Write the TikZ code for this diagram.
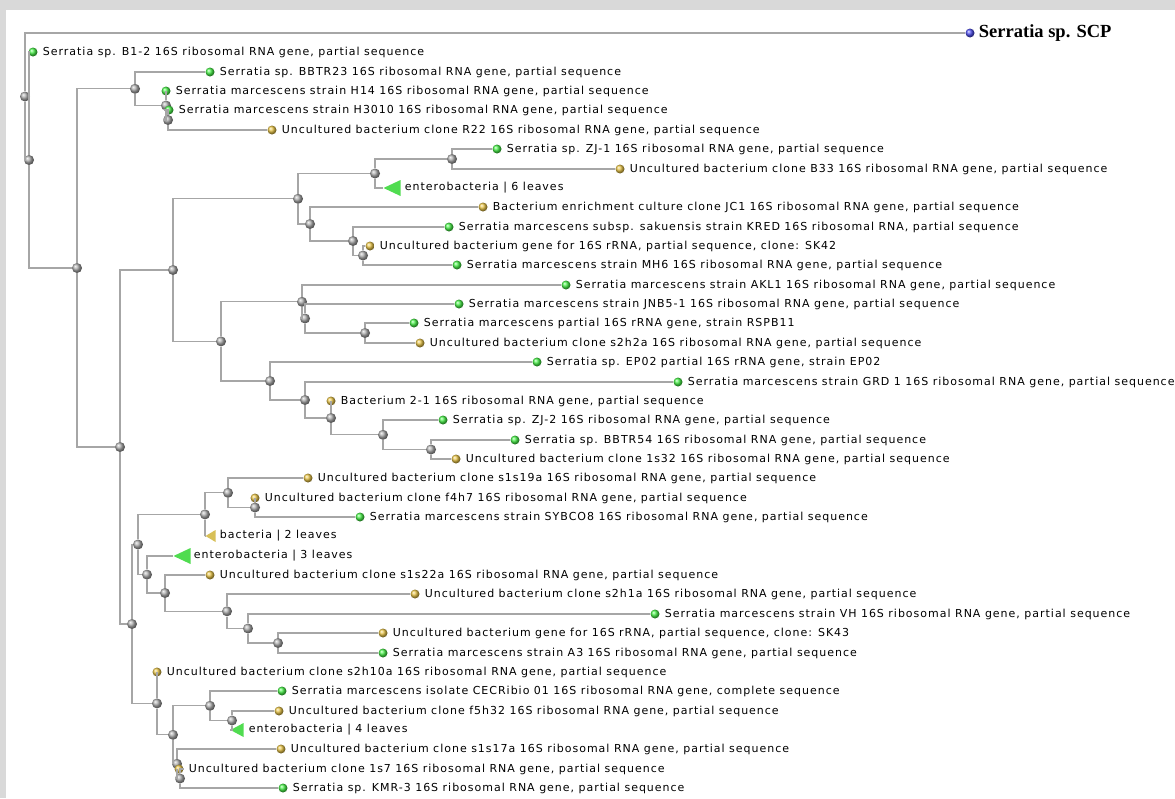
\documentclass[tikz,border=0pt]{standalone}
\usepackage{fontspec}
\usetikzlibrary{positioning, shapes.geometric}
\newfontfamily\treefont{DejaVu Sans}[LetterSpace=9]
\newfontfamily\rootfont{Liberation Serif}
\definecolor{leafgreen}{HTML}{48F048}
\definecolor{leafgold}{HTML}{E8C448}
\definecolor{leafblue}{HTML}{5050F0}
\definecolor{cladegreen}{HTML}{50DC50}
\definecolor{cladegold}{HTML}{D8C058}
\definecolor{branchgray}{HTML}{A6A6A6}

\begin{document}
\begin{tikzpicture}[
    x=1pt, y=-1pt,
    split/.style={circle, inner sep=0pt, minimum size=10pt, ball color=gray!65},
    leaf/.style={circle, inner sep=0pt, minimum size=9pt, ball color=#1},
    tag/.style={inner sep=0pt, font=\treefont\fontsize{11}{13}\selectfont, text=black},
    clade/.style={isosceles triangle, shape border rotate=180, anchor=apex, inner sep=0pt, isosceles triangle stretches, fill=#1},
    branch/.style={draw=branchgray, line width=1.3pt}
]
    % FRAME
    \useasboundingbox (0,0) rectangle (1175,798);
    \fill[gray!30] (0,0) rectangle (1175,798);
    \fill[white] (6,10) rectangle (1175,798);

    % INNER NODES
    \node[split] (n_a) at (25,96.5) {};
    \node[split] (n_b) at (29,160) {};
    \node[split] (n_c) at (77,268) {};
    \node[split] (n_d) at (135,88.8) {};
    \node[split] (n_e) at (166,105.5) {};
    \node[split] (n_f) at (168,120) {};
    \node[split] (n_g) at (120,447) {};
    \node[split] (n_h) at (173,270) {};
    \node[split] (n_y) at (298,198.8) {};
    \node[split] (n_aa) at (375,173.5) {};
    \node[split] (n_ac) at (452,159) {};
    \node[split] (n_ab) at (310,224) {};
    \node[split] (n_ad) at (353,241) {};
    \node[split] (n_ae) at (363,255.5) {};
    \node[split] (n_z) at (221,341.4) {};
    \node[split] (n_af) at (302,301.8) {};
    \node[split] (n_ah) at (305,318.5) {};
    \node[split] (n_ai) at (365,333) {};
    \node[split] (n_ag) at (270,381) {};
    \node[split] (n_aj) at (305,400) {};
    \node[split] (n_ak) at (331,418) {};
    \node[split] (n_al) at (383,434.8) {};
    \node[split] (n_am) at (431,449.5) {};
    \node[split] (n_i) at (132,624) {};
    \node[split] (n_j) at (138,544.5) {};
    \node[split] (n_l) at (205,514.4) {};
    \node[split] (n_n) at (228,492.8) {};
    \node[split] (n_o) at (255,507.5) {};
    \node[split] (n_m) at (147,574.6) {};
    \node[split] (n_p) at (165,593) {};
    \node[split] (n_q) at (227,611.3) {};
    \node[split] (n_r) at (248,628.5) {};
    \node[split] (n_s) at (278,643) {};
    \node[split] (n_k) at (157,703.4) {};
    \node[split] (n_t) at (173,734.8) {};
    \node[split] (n_u) at (210,705.8) {};
    \node[split] (n_w) at (232,720.5) {};
    \node[split] (n_v) at (177,763.8) {};
    \node[split] (n_x) at (180,778.5) {};

    % LEAVES
    \node[leaf=leafblue] (scp) at (970,33) {};
    \node[inner sep=0pt, font=\rootfont\bfseries\fontsize{18.5}{20}\selectfont, right=4pt of scp] (scp_t) {Serratia sp. SCP};

    \node[leaf=leafgreen] (b1_2) at (33,52) {};
    \node[tag, right=5pt of b1_2] (b1_2_t) {Serratia sp. B1-2 16S ribosomal RNA gene, partial sequence};
    \node[leaf=leafgreen] (bbtr23) at (210,72) {};
    \node[tag, right=5pt of bbtr23] (bbtr23_t) {Serratia sp. BBTR23 16S ribosomal RNA gene, partial sequence};
    \node[leaf=leafgreen] (h14) at (166,91) {};
    \node[tag, right=5pt of h14] (h14_t) {Serratia marcescens strain H14 16S ribosomal RNA gene, partial sequence};
    \node[leaf=leafgreen] (h3010) at (169,110) {};
    \node[tag, right=5pt of h3010] (h3010_t) {Serratia marcescens strain H3010 16S ribosomal RNA gene, partial sequence};
    \node[leaf=leafgold] (r22) at (272,130) {};
    \node[tag, right=5pt of r22] (r22_t) {Uncultured bacterium clone R22 16S ribosomal RNA gene, partial sequence};
    \node[leaf=leafgreen] (zj1) at (497,149) {};
    \node[tag, right=5pt of zj1] (zj1_t) {Serratia sp. ZJ-1 16S ribosomal RNA gene, partial sequence};
    \node[leaf=leafgold] (b33) at (620,169) {};
    \node[tag, right=5pt of b33] (b33_t) {Uncultured bacterium clone B33 16S ribosomal RNA gene, partial sequence};
    \node[clade=cladegreen, minimum width=16pt, minimum height=17pt] (ent6) at (383,188) {};
    \node[tag, right=4pt of ent6] (ent6_t) {enterobacteria | 6 leaves};
    \node[leaf=leafgold] (jc1) at (483,207) {};
    \node[tag, right=5pt of jc1] (jc1_t) {Bacterium enrichment culture clone JC1 16S ribosomal RNA gene, partial sequence};
    \node[leaf=leafgreen] (kred) at (449,227) {};
    \node[tag, right=5pt of kred] (kred_t) {Serratia marcescens subsp. sakuensis strain KRED 16S ribosomal RNA, partial sequence};
    \node[leaf=leafgold] (sk42) at (370,246) {};
    \node[tag, right=5pt of sk42] (sk42_t) {Uncultured bacterium gene for 16S rRNA, partial sequence, clone: SK42};
    \node[leaf=leafgreen] (mh6) at (457,265) {};
    \node[tag, right=5pt of mh6] (mh6_t) {Serratia marcescens strain MH6 16S ribosomal RNA gene, partial sequence};
    \node[leaf=leafgreen] (akl1) at (566,285) {};
    \node[tag, right=5pt of akl1] (akl1_t) {Serratia marcescens strain AKL1 16S ribosomal RNA gene, partial sequence};
    \node[leaf=leafgreen] (jnb51) at (459,304) {};
    \node[tag, right=5pt of jnb51] (jnb51_t) {Serratia marcescens strain JNB5-1 16S ribosomal RNA gene, partial sequence};
    \node[leaf=leafgreen] (rspb11) at (414,323) {};
    \node[tag, right=5pt of rspb11] (rspb11_t) {Serratia marcescens partial 16S rRNA gene, strain RSPB11};
    \node[leaf=leafgold] (s2h2a) at (420,343) {};
    \node[tag, right=5pt of s2h2a] (s2h2a_t) {Uncultured bacterium clone s2h2a 16S ribosomal RNA gene, partial sequence};
    \node[leaf=leafgreen] (ep02) at (537,362) {};
    \node[tag, right=5pt of ep02] (ep02_t) {Serratia sp. EP02 partial 16S rRNA gene, strain EP02};
    \node[leaf=leafgreen] (grd1) at (678,382) {};
    \node[tag, right=5pt of grd1] (grd1_t) {Serratia marcescens strain GRD 1 16S ribosomal RNA gene, partial sequence};
    \node[leaf=leafgold] (bac21) at (331,401) {};
    \node[tag, right=5pt of bac21] (bac21_t) {Bacterium 2-1 16S ribosomal RNA gene, partial sequence};
    \node[leaf=leafgreen] (zj2) at (443,420) {};
    \node[tag, right=5pt of zj2] (zj2_t) {Serratia sp. ZJ-2 16S ribosomal RNA gene, partial sequence};
    \node[leaf=leafgreen] (bbtr54) at (515,440) {};
    \node[tag, right=5pt of bbtr54] (bbtr54_t) {Serratia sp. BBTR54 16S ribosomal RNA gene, partial sequence};
    \node[leaf=leafgold] (c1s32) at (456,459) {};
    \node[tag, right=5pt of c1s32] (c1s32_t) {Uncultured bacterium clone 1s32 16S ribosomal RNA gene, partial sequence};
    \node[leaf=leafgold] (s1s19a) at (308,478) {};
    \node[tag, right=5pt of s1s19a] (s1s19a_t) {Uncultured bacterium clone s1s19a 16S ribosomal RNA gene, partial sequence};
    \node[leaf=leafgold] (f4h7) at (255,498) {};
    \node[tag, right=5pt of f4h7] (f4h7_t) {Uncultured bacterium clone f4h7 16S ribosomal RNA gene, partial sequence};
    \node[leaf=leafgreen] (sybco8) at (360,517) {};
    \node[tag, right=5pt of sybco8] (sybco8_t) {Serratia marcescens strain SYBCO8 16S ribosomal RNA gene, partial sequence};
    \node[clade=cladegold, minimum width=12pt, minimum height=10pt] (bact2) at (205,536) {};
    \node[tag, right=4pt of bact2] (bact2_t) {bacteria | 2 leaves};
    \node[clade=cladegreen, minimum width=16pt, minimum height=17pt] (ent3) at (173,556) {};
    \node[tag, right=3pt of ent3] (ent3_t) {enterobacteria | 3 leaves};
    \node[leaf=leafgold] (s1s22a) at (210,575) {};
    \node[tag, right=5pt of s1s22a] (s1s22a_t) {Uncultured bacterium clone s1s22a 16S ribosomal RNA gene, partial sequence};
    \node[leaf=leafgold] (s2h1a) at (415,594) {};
    \node[tag, right=5pt of s2h1a] (s2h1a_t) {Uncultured bacterium clone s2h1a 16S ribosomal RNA gene, partial sequence};
    \node[leaf=leafgreen] (vh) at (655,614) {};
    \node[tag, right=5pt of vh] (vh_t) {Serratia marcescens strain VH 16S ribosomal RNA gene, partial sequence};
    \node[leaf=leafgold] (sk43) at (383,633) {};
    \node[tag, right=5pt of sk43] (sk43_t) {Uncultured bacterium gene for 16S rRNA, partial sequence, clone: SK43};
    \node[leaf=leafgreen] (a3) at (383,653) {};
    \node[tag, right=5pt of a3] (a3_t) {Serratia marcescens strain A3 16S ribosomal RNA gene, partial sequence};
    \node[leaf=leafgold] (s2h10a) at (157,672) {};
    \node[tag, right=5pt of s2h10a] (s2h10a_t) {Uncultured bacterium clone s2h10a 16S ribosomal RNA gene, partial sequence};
    \node[leaf=leafgreen] (cec) at (282,691) {};
    \node[tag, right=5pt of cec] (cec_t) {Serratia marcescens isolate CECRibio 01 16S ribosomal RNA gene, complete sequence};
    \node[leaf=leafgold] (f5h32) at (279,711) {};
    \node[tag, right=5pt of f5h32] (f5h32_t) {Uncultured bacterium clone f5h32 16S ribosomal RNA gene, partial sequence};
    \node[clade=cladegreen, minimum width=14pt, minimum height=13pt] (ent4) at (230,730) {};
    \node[tag, right=5pt of ent4] (ent4_t) {enterobacteria | 4 leaves};
    \node[leaf=leafgold] (s1s17a) at (281,749) {};
    \node[tag, right=5pt of s1s17a] (s1s17a_t) {Uncultured bacterium clone s1s17a 16S ribosomal RNA gene, partial sequence};
    \node[leaf=leafgold] (c1s7) at (179,769) {};
    \node[tag, right=5pt of c1s7] (c1s7_t) {Uncultured bacterium clone 1s7 16S ribosomal RNA gene, partial sequence};
    \node[leaf=leafgreen] (kmr3) at (283,788) {};
    \node[tag, right=5pt of kmr3] (kmr3_t) {Serratia sp. KMR-3 16S ribosomal RNA gene, partial sequence};

    % EDGES
    \draw[branch] (n_a) |- (scp);
    \draw[branch] (n_a) |- (n_b);
    \draw[branch] (n_b) |- (b1_2);
    \draw[branch] (n_b) |- (n_c);
    \draw[branch] (n_c) |- (n_d);
    \draw[branch] (n_c) |- (n_g);
    \draw[branch] (n_d) |- (bbtr23);
    \draw[branch] (n_d) |- (n_e);
    \draw[branch] (n_e) |- (h14);
    \draw[branch] (n_e) |- (n_f);
    \draw[branch] (n_f) |- (h3010);
    \draw[branch] (n_f) |- (r22);

    \draw[branch] (n_g) |- (n_h);
    \draw[branch] (n_g) |- (n_i);
    \draw[branch] (n_h) |- (n_y);
    \draw[branch] (n_h) |- (n_z);
    \draw[branch] (n_y) |- (n_aa);
    \draw[branch] (n_y) |- (n_ab);
    \draw[branch] (n_aa) |- (n_ac);
    \draw[branch] (n_aa) |- (ent6);
    \draw[branch] (n_ac) |- (zj1);
    \draw[branch] (n_ac) |- (b33);
    \draw[branch] (n_ab) |- (jc1);
    \draw[branch] (n_ab) |- (n_ad);
    \draw[branch] (n_ad) |- (kred);
    \draw[branch] (n_ad) |- (n_ae);
    \draw[branch] (n_ae) |- (sk42);
    \draw[branch] (n_ae) |- (mh6);

    \draw[branch] (n_z) |- (n_af);
    \draw[branch] (n_z) |- (n_ag);
    \draw[branch] (n_af) |- (akl1);
    \draw[branch] (n_af) |- (n_ah);
    \draw[branch] (n_ah) |- (jnb51);
    \draw[branch] (n_ah) |- (n_ai);
    \draw[branch] (n_ai) |- (rspb11);
    \draw[branch] (n_ai) |- (s2h2a);
    \draw[branch] (n_ag) |- (ep02);
    \draw[branch] (n_ag) |- (n_aj);
    \draw[branch] (n_aj) |- (grd1);
    \draw[branch] (n_aj) |- (n_ak);
    \draw[branch] (n_ak) |- (bac21);
    \draw[branch] (n_ak) |- (n_al);
    \draw[branch] (n_al) |- (zj2);
    \draw[branch] (n_al) |- (n_am);
    \draw[branch] (n_am) |- (bbtr54);
    \draw[branch] (n_am) |- (c1s32);

    \draw[branch] (n_i) |- (n_j);
    \draw[branch] (n_i) |- (n_k);
    \draw[branch] (n_j) |- (n_l);
    \draw[branch] (n_j) |- (n_m);
    \draw[branch] (n_l) |- (n_n);
    \draw[branch] (n_l) |- (bact2);
    \draw[branch] (n_n) |- (s1s19a);
    \draw[branch] (n_n) |- (n_o);
    \draw[branch] (n_o) |- (f4h7);
    \draw[branch] (n_o) |- (sybco8);
    \draw[branch] (n_m) |- (ent3);
    \draw[branch] (n_m) |- (n_p);
    \draw[branch] (n_p) |- (s1s22a);
    \draw[branch] (n_p) |- (n_q);
    \draw[branch] (n_q) |- (s2h1a);
    \draw[branch] (n_q) |- (n_r);
    \draw[branch] (n_r) |- (vh);
    \draw[branch] (n_r) |- (n_s);
    \draw[branch] (n_s) |- (sk43);
    \draw[branch] (n_s) |- (a3);

    \draw[branch] (n_k) |- (s2h10a);
    \draw[branch] (n_k) |- (n_t);
    \draw[branch] (n_t) |- (n_u);
    \draw[branch] (n_t) |- (n_v);
    \draw[branch] (n_u) |- (cec);
    \draw[branch] (n_u) |- (n_w);
    \draw[branch] (n_w) |- (f5h32);
    \draw[branch] (n_w) |- (ent4);
    \draw[branch] (n_v) |- (s1s17a);
    \draw[branch] (n_v) |- (n_x);
    \draw[branch] (n_x) |- (c1s7);
    \draw[branch] (n_x) |- (kmr3);

\end{tikzpicture}
\end{document}
